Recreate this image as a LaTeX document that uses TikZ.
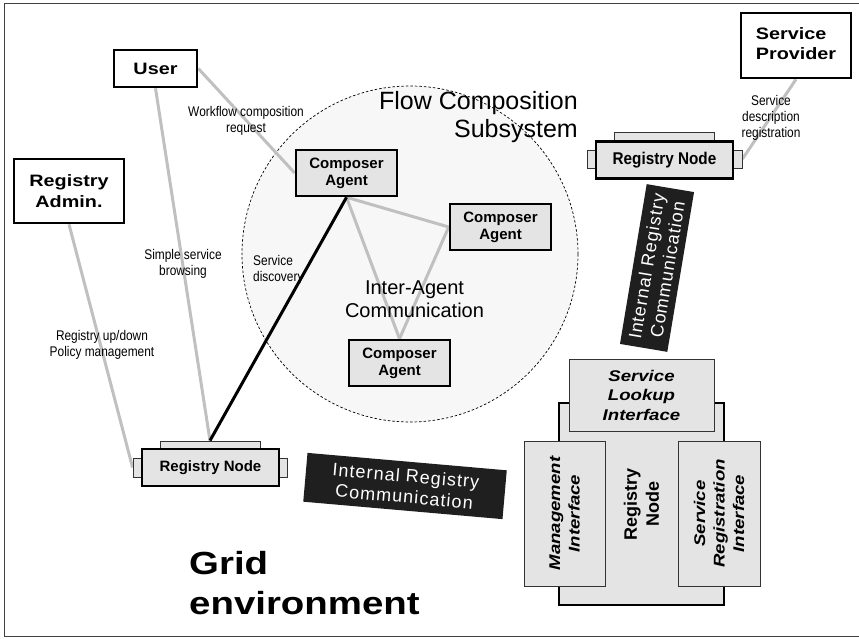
\documentclass[tikz,border=0pt]{standalone}
\usepackage{fontspec}
\setmainfont{Liberation Sans}
\newfontfamily\narrowf{Liberation Sans}[FakeStretch=0.85]
\newfontfamily\widef{Liberation Sans}[FakeStretch=1.2]
\newfontfamily\condf{Liberation Sans}[FakeStretch=0.9]
\newfontfamily\spacedf{Liberation Sans}[LetterSpace=6]
\pgfdeclarelayer{back}
\pgfsetlayers{back,main}
\definecolor{connc}{HTML}{C0C0C0}
\definecolor{boxfill}{HTML}{E4E4E4}
\definecolor{circfill}{HTML}{F7F7F7}
\begin{document}
\begin{tikzpicture}[x=1pt,y=-1pt,
  frame/.style={draw=black!75, line width=1.4pt},
  actor/.style={draw=black, line width=2.6pt, fill=white, inner sep=0pt, align=center,
    font=\widef\bfseries\fontsize{16.5}{21}\selectfont},
  agent/.style={draw=black, line width=2.6pt, fill=boxfill, inner sep=0pt, align=center,
    minimum width=101, minimum height=46, font=\bfseries\fontsize{15}{17}\selectfont},
  regbox/.style={draw=black, line width=2.6pt, fill=boxfill, inner sep=0pt,
    minimum width=137, minimum height=37},
  tab/.style={draw=black!80, line width=0.8pt, fill=boxfill, inner sep=0pt},
  thinbox/.style={draw=black!80, line width=0.8pt, fill=boxfill, inner sep=0pt, align=center,
    font=\widef\bfseries\itshape\fontsize{15.5}{19.5}\selectfont},
  conn/.style={draw=connc, line width=3pt},
  blackconn/.style={draw=black, line width=3pt},
  lbl/.style={inner sep=0pt, align=center, font=\narrowf\fontsize{14}{16}\selectfont},
  banner/.style={fill=black!88, text=white, inner sep=0pt, align=center,
    font=\spacedf\fontsize{18}{21}\selectfont},
  circ/.style={draw=black, line width=0.7pt, dash pattern=on 2.5pt off 2pt, fill=circfill}
]
\useasboundingbox (0,0) rectangle (859,639);
\draw[frame] (862,3.5) -- (4.5,3.5) -- (4.5,636.5) -- (862,636.5);

% actors
\node[actor, minimum width=83, minimum height=37] (user) at (155.5,68.5) {User};
\node[actor, minimum width=110, minimum height=64] (admin) at (69,191) {Registry\\Admin.};
\node[actor, minimum width=110, minimum height=65] (sp) at (796,45.5) {\begin{tabular}{@{}l@{}}Service\\[-1pt]Provider\end{tabular}};

% composer agents
\node[agent] (ca1) at (346.5,173) {Composer\\Agent};
\node[agent] (ca2) at (500.5,227) {Composer\\Agent};
\node[agent] (ca3) at (399.5,363) {Composer\\Agent};

% registry node top right
\node[tab, minimum width=100, minimum height=18] (rn1top) at (664,141) {};
\node[tab, minimum width=18, minimum height=18] (rn1L) at (596,159) {};
\node[tab, minimum width=18, minimum height=18] (rn1R) at (733,159) {};
\node[regbox, font=\condf\bfseries\fontsize{17}{20}\selectfont] (rn1) at (664.5,160) {Registry Node};

% registry node bottom left
\node[tab, minimum width=100, minimum height=16] (rn2top) at (210,449) {};
\node[tab, minimum width=18, minimum height=19] (rn2L) at (142,467.5) {};
\node[tab, minimum width=18, minimum height=19] (rn2R) at (278,467.5) {};
\node[regbox, font=\bfseries\fontsize{15}{18}\selectfont] (rn2) at (210.5,467.5) {Registry Node};

% big registry node
\node[draw=black, line width=2.6pt, fill=boxfill, inner sep=0pt, rotate=90,
  minimum width=202, minimum height=165, align=center,
  font=\bfseries\fontsize{18}{22}\selectfont] (rnbig) at (641.5,504) {Registry\\Node};
\node[thinbox, minimum width=145, minimum height=72] (lookup) at (641.5,395) {Service\\Lookup\\Interface};
\node[thinbox, rotate=90, minimum width=145, minimum height=81] (mgmt) at (564.5,513.5) {Management\\Interface};
\node[thinbox, rotate=90, minimum width=145, minimum height=82] (sreg) at (719,513.5) {Service\\Registration\\Interface};

% connectors and circle
\begin{pgfonlayer}{back}
  \draw[circ] (410,254) circle [radius=168pt];
  \draw[conn] (user.south) -- (rn2top.north);
  \draw[conn] (user.east) -- (ca1.west);
  \draw[conn] (admin.south) -- (rn2L.west);
  \draw[conn] (sp.south) -- (rn1R.east);
  \draw[conn] (ca1.south) -- (ca2.west);
  \draw[conn] (ca1.south) -- (ca3.north);
  \draw[conn] (ca2.west) -- (ca3.north);
  \draw[blackconn] (ca1.south) -- (rn2top.north);
\end{pgfonlayer}

% labels
\node[lbl] (l1) at (246,121) {Workflow composition\\request};
\node[lbl] (l2) at (183,264) {Simple service\\browsing};
\node[lbl, anchor=west, align=left] (l3) at (253,270) {Service\\discovery};
\node[lbl] (l4) at (102,345) {Registry up/down\\Policy management};
\node[lbl] (l5) at (771,118) {Service\\description\\registration};

% titles
\node[inner sep=0pt, anchor=east, align=right, font=\fontsize{25}{28}\selectfont] (title) at (578,117.5) {Flow Composition\\Subsystem};
\node[inner sep=0pt, align=center, font=\fontsize{20}{23}\selectfont] (iac) at (414.5,299) {Inter-Agent\\Communication};
\node[inner sep=0pt, anchor=west, align=left, font=\widef\bfseries\fontsize{32}{40}\selectfont] (grid) at (189,583.5) {Grid\\environment};

% banners
\node[banner, rotate=80.5, minimum width=162, minimum height=48] (b1) at (657,268) {Internal Registry\\Communication};
\node[banner, rotate=-5, minimum width=200, minimum height=49] (b2) at (405,486) {Internal Registry\\Communication};
\end{tikzpicture}
\end{document}
